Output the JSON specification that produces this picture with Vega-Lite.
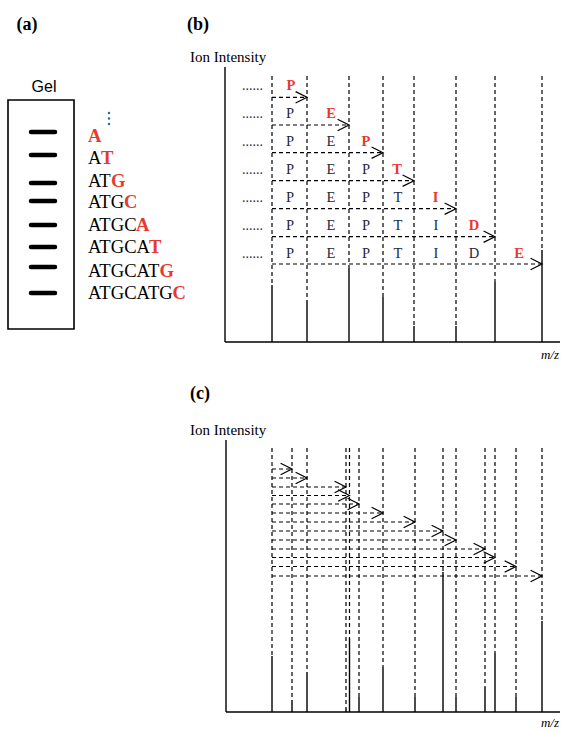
{
  "$schema": "https://vega.github.io/schema/vega-lite/v6.json",
  "width": 567,
  "height": 731,
  "padding": 0,
  "autosize": {"type": "none"},
  "background": "white",
  "config": {"view": {"stroke": null}},
  "datasets": {
    "solid": [
      {"x": 225, "y": 67, "x2": 225, "y2": 342},
      {"x": 225, "y": 342, "x2": 560, "y2": 342},
      {"x": 272, "y": 285, "x2": 272, "y2": 342},
      {"x": 307, "y": 300, "x2": 307, "y2": 342},
      {"x": 349, "y": 268, "x2": 349, "y2": 342},
      {"x": 383, "y": 297, "x2": 383, "y2": 342},
      {"x": 414, "y": 326, "x2": 414, "y2": 342},
      {"x": 456, "y": 326, "x2": 456, "y2": 342},
      {"x": 495, "y": 282, "x2": 495, "y2": 342},
      {"x": 542, "y": 250, "x2": 542, "y2": 342},
      {"x": 226, "y": 440, "x2": 226, "y2": 712},
      {"x": 226, "y": 712, "x2": 560, "y2": 712},
      {"x": 272, "y": 656, "x2": 272, "y2": 712},
      {"x": 292, "y": 700, "x2": 292, "y2": 712},
      {"x": 307, "y": 672, "x2": 307, "y2": 712},
      {"x": 346, "y": 708, "x2": 346, "y2": 712},
      {"x": 349.5, "y": 638, "x2": 349.5, "y2": 712},
      {"x": 359, "y": 697, "x2": 359, "y2": 712},
      {"x": 383, "y": 667, "x2": 383, "y2": 712},
      {"x": 415, "y": 697, "x2": 415, "y2": 712},
      {"x": 443, "y": 572, "x2": 443, "y2": 712},
      {"x": 456, "y": 697, "x2": 456, "y2": 712},
      {"x": 485, "y": 687, "x2": 485, "y2": 712},
      {"x": 495, "y": 653, "x2": 495, "y2": 712},
      {"x": 516, "y": 697, "x2": 516, "y2": 712},
      {"x": 542, "y": 621, "x2": 542, "y2": 712}
    ],
    "dashed": [
      {"x": 272, "y": 76, "x2": 272, "y2": 285},
      {"x": 307, "y": 76, "x2": 307, "y2": 300},
      {"x": 349, "y": 76, "x2": 349, "y2": 268},
      {"x": 383, "y": 76, "x2": 383, "y2": 297},
      {"x": 414, "y": 76, "x2": 414, "y2": 326},
      {"x": 456, "y": 76, "x2": 456, "y2": 326},
      {"x": 495, "y": 76, "x2": 495, "y2": 282},
      {"x": 542, "y": 76, "x2": 542, "y2": 250},
      {"x": 272, "y": 97.3, "x2": 307, "y2": 97.3},
      {"x": 272, "y": 125, "x2": 349, "y2": 125},
      {"x": 272, "y": 152.7, "x2": 383, "y2": 152.7},
      {"x": 272, "y": 180.7, "x2": 414, "y2": 180.7},
      {"x": 272, "y": 208.7, "x2": 456, "y2": 208.7},
      {"x": 272, "y": 236.7, "x2": 495, "y2": 236.7},
      {"x": 272, "y": 264, "x2": 542, "y2": 264},
      {"x": 272, "y": 448, "x2": 272, "y2": 656},
      {"x": 292, "y": 448, "x2": 292, "y2": 700},
      {"x": 307, "y": 448, "x2": 307, "y2": 672},
      {"x": 346, "y": 448, "x2": 346, "y2": 708},
      {"x": 349.5, "y": 448, "x2": 349.5, "y2": 638},
      {"x": 359, "y": 448, "x2": 359, "y2": 697},
      {"x": 383, "y": 448, "x2": 383, "y2": 667},
      {"x": 415, "y": 448, "x2": 415, "y2": 697},
      {"x": 443, "y": 448, "x2": 443, "y2": 572},
      {"x": 456, "y": 448, "x2": 456, "y2": 697},
      {"x": 485, "y": 448, "x2": 485, "y2": 687},
      {"x": 495, "y": 448, "x2": 495, "y2": 653},
      {"x": 516, "y": 448, "x2": 516, "y2": 697},
      {"x": 542, "y": 448, "x2": 542, "y2": 621},
      {"x": 272, "y": 469, "x2": 292, "y2": 469},
      {"x": 272, "y": 478, "x2": 307, "y2": 478},
      {"x": 272, "y": 487, "x2": 346, "y2": 487},
      {"x": 272, "y": 495.5, "x2": 349.5, "y2": 495.5},
      {"x": 272, "y": 504, "x2": 359, "y2": 504},
      {"x": 272, "y": 513, "x2": 383, "y2": 513},
      {"x": 272, "y": 522, "x2": 415, "y2": 522},
      {"x": 272, "y": 531, "x2": 443, "y2": 531},
      {"x": 272, "y": 540, "x2": 456, "y2": 540},
      {"x": 272, "y": 549, "x2": 485, "y2": 549},
      {"x": 272, "y": 557.5, "x2": 495, "y2": 557.5},
      {"x": 272, "y": 566.5, "x2": 516, "y2": 566.5},
      {"x": 272, "y": 576, "x2": 542, "y2": 576}
    ],
    "heads": [
      {"x": 307, "y": 97.3}, {"x": 349, "y": 125}, {"x": 383, "y": 152.7},
      {"x": 414, "y": 180.7}, {"x": 456, "y": 208.7}, {"x": 495, "y": 236.7},
      {"x": 542, "y": 264},
      {"x": 292, "y": 469}, {"x": 307, "y": 478}, {"x": 346, "y": 487},
      {"x": 349.5, "y": 495.5}, {"x": 359, "y": 504}, {"x": 383, "y": 513},
      {"x": 415, "y": 522}, {"x": 443, "y": 531}, {"x": 456, "y": 540},
      {"x": 485, "y": 549}, {"x": 495, "y": 557.5}, {"x": 516, "y": 566.5},
      {"x": 542, "y": 576}
    ],
    "bands": [
      {"x": 31, "x2": 55, "y": 132}, {"x": 31, "x2": 55, "y": 155},
      {"x": 31, "x2": 55, "y": 183}, {"x": 31, "x2": 55, "y": 201},
      {"x": 31, "x2": 55, "y": 225}, {"x": 31, "x2": 55, "y": 247},
      {"x": 31, "x2": 55, "y": 267}, {"x": 31, "x2": 55, "y": 293}
    ],
    "gelbox": [{"x": 8, "x2": 74, "y": 100, "y2": 329}],
    "bluedots": [{"x": 109, "y": 113}, {"x": 109, "y": 118.5}, {"x": 109, "y": 124}],
    "texts": [
      {"kind": "label", "t": "(a)", "x": 27, "y": 25},
      {"kind": "label", "t": "(b)", "x": 198, "y": 25},
      {"kind": "label", "t": "(c)", "x": 200, "y": 394},
      {"kind": "gel", "t": "Gel", "x": 44, "y": 87},
      {"kind": "axt", "t": "Ion Intensity", "x": 190, "y": 57},
      {"kind": "axt", "t": "Ion Intensity", "x": 190, "y": 430},
      {"kind": "mz", "t": "m/z", "x": 550, "y": 355},
      {"kind": "mz", "t": "m/z", "x": 550, "y": 723},
      {"kind": "seqB", "t": "A", "x": 88, "y": 163.5},
      {"kind": "seqB", "t": "AT", "x": 88, "y": 186.5},
      {"kind": "seqB", "t": "ATG", "x": 88, "y": 207.5},
      {"kind": "seqB", "t": "ATGC", "x": 88, "y": 231},
      {"kind": "seqB", "t": "ATGCA", "x": 88, "y": 252.5},
      {"kind": "seqB", "t": "ATGCAT", "x": 88, "y": 276.5},
      {"kind": "seqB", "t": "ATGCATG", "x": 88, "y": 298.5},
      {"kind": "seqR", "t": "A", "x": 88, "y": 141.5},
      {"kind": "seqR", "t": "T", "x": 101, "y": 163.5},
      {"kind": "seqR", "t": "G", "x": 111, "y": 186.5},
      {"kind": "seqR", "t": "C", "x": 124, "y": 207.5},
      {"kind": "seqR", "t": "A", "x": 136, "y": 231},
      {"kind": "seqR", "t": "T", "x": 149, "y": 252.5},
      {"kind": "seqR", "t": "G", "x": 159.5, "y": 276.5},
      {"kind": "seqR", "t": "C", "x": 172.5, "y": 298.5},
      {"kind": "dots", "t": "......", "x": 242, "y": 89.6},
      {"kind": "dots", "t": "......", "x": 242, "y": 117.6},
      {"kind": "dots", "t": "......", "x": 242, "y": 145.6},
      {"kind": "dots", "t": "......", "x": 242, "y": 173.6},
      {"kind": "dots", "t": "......", "x": 242, "y": 201.6},
      {"kind": "dots", "t": "......", "x": 242, "y": 229.6},
      {"kind": "dots", "t": "......", "x": 242, "y": 257.6},
      {"kind": "pepR", "t": "P", "x": 291, "y": 89.6},
      {"kind": "pepR", "t": "E", "x": 331, "y": 117.6},
      {"kind": "pepR", "t": "P", "x": 366, "y": 145.6},
      {"kind": "pepR", "t": "T", "x": 397, "y": 173.6},
      {"kind": "pepR", "t": "I", "x": 435.5, "y": 201.6},
      {"kind": "pepR", "t": "D", "x": 474, "y": 229.6},
      {"kind": "pepR", "t": "E", "x": 519, "y": 257.6},
      {"kind": "pepN", "t": "P", "x": 290, "y": 117.6},
      {"kind": "pepN", "t": "P", "x": 290, "y": 145.6},
      {"kind": "pepN", "t": "E", "x": 331, "y": 145.6},
      {"kind": "pepN", "t": "P", "x": 290, "y": 173.6},
      {"kind": "pepN", "t": "E", "x": 331, "y": 173.6},
      {"kind": "pepN", "t": "P", "x": 366, "y": 173.6},
      {"kind": "pepN", "t": "P", "x": 290, "y": 201.6},
      {"kind": "pepN", "t": "E", "x": 331, "y": 201.6},
      {"kind": "pepN", "t": "P", "x": 366, "y": 201.6},
      {"kind": "pepN", "t": "T", "x": 398, "y": 201.6},
      {"kind": "pepN", "t": "P", "x": 290, "y": 229.6},
      {"kind": "pepN", "t": "E", "x": 331, "y": 229.6},
      {"kind": "pepN", "t": "P", "x": 366, "y": 229.6},
      {"kind": "pepN", "t": "T", "x": 398, "y": 229.6},
      {"kind": "pepN", "t": "I", "x": 436, "y": 229.6},
      {"kind": "pepN", "t": "P", "x": 290, "y": 257.6},
      {"kind": "pepN", "t": "E", "x": 331, "y": 257.6},
      {"kind": "pepN", "t": "P", "x": 366, "y": 257.6},
      {"kind": "pepN", "t": "T", "x": 398, "y": 257.6},
      {"kind": "pepN", "t": "I", "x": 436, "y": 257.6},
      {"kind": "pepN", "t": "D", "x": 474, "y": 257.6}
    ]
  },
  "encoding": {
    "x": {"field": "x", "type": "quantitative", "scale": {"domain": [0, 567], "nice": false, "zero": false}, "axis": null},
    "y": {"field": "y", "type": "quantitative", "scale": {"domain": [0, 731], "nice": false, "zero": false, "reverse": true}, "axis": null}
  },
  "layer": [
    {
      "data": {"name": "gelbox"},
      "mark": {"type": "rect", "fill": null, "fillOpacity": 0, "stroke": "black", "strokeWidth": 1.6},
      "encoding": {"x2": {"field": "x2"}, "y2": {"field": "y2"}}
    },
    {
      "data": {"name": "bands"},
      "mark": {"type": "rule", "color": "black", "strokeWidth": 4.5, "strokeCap": "round"},
      "encoding": {"x2": {"field": "x2"}}
    },
    {
      "data": {"name": "solid"},
      "mark": {"type": "rule", "color": "black", "strokeWidth": 1.4},
      "encoding": {"x2": {"field": "x2"}, "y2": {"field": "y2"}}
    },
    {
      "data": {"name": "dashed"},
      "mark": {"type": "rule", "color": "black", "strokeWidth": 1.2, "strokeDash": [4, 3]},
      "encoding": {"x2": {"field": "x2"}, "y2": {"field": "y2"}}
    },
    {
      "data": {"name": "heads"},
      "mark": {"type": "point", "shape": "M-2,-1L0,0L-2,1", "filled": false, "size": 130, "stroke": "black", "strokeWidth": 1.2, "opacity": 1}
    },
    {
      "data": {"name": "bluedots"},
      "mark": {"type": "circle", "size": 6, "color": "#2b6ca3", "opacity": 1}
    },
    {
      "data": {"name": "texts"},
      "transform": [{"filter": "datum.kind === 'label'"}],
      "mark": {"type": "text", "font": "Liberation Serif", "fontWeight": "bold", "fontSize": 18, "align": "center", "baseline": "middle", "color": "black"},
      "encoding": {"text": {"field": "t"}}
    },
    {
      "data": {"name": "texts"},
      "transform": [{"filter": "datum.kind === 'gel'"}],
      "mark": {"type": "text", "font": "Liberation Sans", "fontSize": 16, "align": "center", "baseline": "middle", "color": "black"},
      "encoding": {"text": {"field": "t"}}
    },
    {
      "data": {"name": "texts"},
      "transform": [{"filter": "datum.kind === 'axt'"}],
      "mark": {"type": "text", "font": "Liberation Serif", "fontSize": 15, "align": "left", "baseline": "middle", "color": "black"},
      "encoding": {"text": {"field": "t"}}
    },
    {
      "data": {"name": "texts"},
      "transform": [{"filter": "datum.kind === 'mz'"}],
      "mark": {"type": "text", "font": "Liberation Serif", "fontStyle": "italic", "fontSize": 13, "align": "center", "baseline": "middle", "color": "black"},
      "encoding": {"text": {"field": "t"}}
    },
    {
      "data": {"name": "texts"},
      "transform": [{"filter": "datum.kind === 'seqB'"}],
      "mark": {"type": "text", "font": "Liberation Serif", "fontSize": 18.6, "align": "left", "baseline": "alphabetic", "color": "black"},
      "encoding": {"text": {"field": "t"}}
    },
    {
      "data": {"name": "texts"},
      "transform": [{"filter": "datum.kind === 'seqR'"}],
      "mark": {"type": "text", "font": "Liberation Serif", "fontWeight": "bold", "fontSize": 18.6, "align": "left", "baseline": "alphabetic", "color": "#e8392f"},
      "encoding": {"text": {"field": "t"}}
    },
    {
      "data": {"name": "texts"},
      "transform": [{"filter": "datum.kind === 'dots'"}],
      "mark": {"type": "text", "font": "Liberation Serif", "fontSize": 14, "align": "left", "baseline": "alphabetic", "color": "#1f2a44"},
      "encoding": {"text": {"field": "t"}}
    },
    {
      "data": {"name": "texts"},
      "transform": [{"filter": "datum.kind === 'pepN'"}],
      "mark": {"type": "text", "font": "Liberation Serif", "fontSize": 14.5, "align": "center", "baseline": "alphabetic", "color": "#1d2840"},
      "encoding": {"text": {"field": "t"}}
    },
    {
      "data": {"name": "texts"},
      "transform": [{"filter": "datum.kind === 'pepR'"}],
      "mark": {"type": "text", "font": "Liberation Serif", "fontWeight": "bold", "fontSize": 14.5, "align": "center", "baseline": "alphabetic", "color": "#e8392f"},
      "encoding": {"text": {"field": "t"}}
    }
  ]
}
